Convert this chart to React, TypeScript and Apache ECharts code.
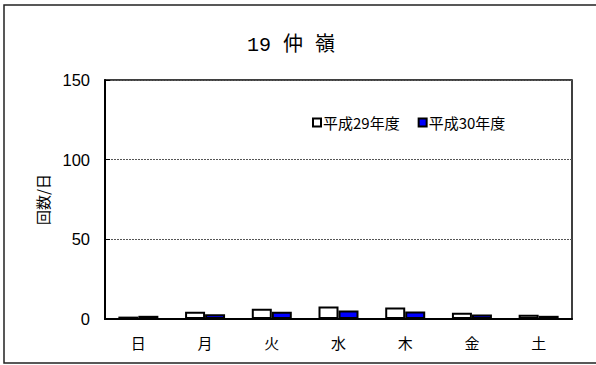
import React, { useEffect, useRef } from "react";
import * as echarts from "echarts";

const title = "19 仲 嶺";
const categories = ["日", "月", "火", "水", "木", "金", "土"];
const seriesNames = ["平成29年度", "平成30年度"];
const valuesH29 = [1.5, 4.6, 6.5, 7.8, 7.2, 4.0, 2.6];
const valuesH30 = [2.0, 3.0, 4.5, 5.3, 4.7, 2.8, 2.0];
const yTicks = { min: 0, max: 150, interval: 50 };
const yName = "回数/日";

const CJK = '"Noto Sans CJK JP", sans-serif';
const MONO = '"Liberation Mono", "Noto Sans CJK JP", monospace';
const NUM = '"Liberation Sans", Arial, sans-serif';

export default function App() {
  const ref = useRef<HTMLDivElement>(null);
  useEffect(() => {
    if (!ref.current) return;
    const chart = echarts.init(ref.current, null, { renderer: "svg" });
    chart.setOption({
      animation: false,
      backgroundColor: "#fff",
      title: {
        text: title,
        left: 286,
        top: 30,
        textAlign: "center",
        textStyle: { fontFamily: MONO, fontSize: 20, fontWeight: "normal", color: "#000" },
      },
      legend: {
        left: 307,
        top: 110,
        itemWidth: 8,
        itemHeight: 8,
        itemGap: 18,
        textStyle: { fontFamily: CJK, fontSize: 15, color: "#000", padding: [0, 0, 0, -3] },
        data: [
          { name: seriesNames[0], icon: "rect", itemStyle: { color: "#fff", borderColor: "#000", borderWidth: 2 } },
          { name: seriesNames[1], icon: "rect", itemStyle: { color: "#0000ff", borderColor: "#000", borderWidth: 2 } },
        ],
      },
      graphic: [
        {
          type: "rect",
          shape: { x: 4, y: 5, width: 600, height: 358 },
          style: { fill: "none", stroke: "#222", lineWidth: 1.5 },
          silent: true,
          z: -10,
        },
      ],
      grid: {
        left: 105,
        right: 24,
        top: 80,
        bottom: 46,
        show: true,
        borderColor: "#000",
        borderWidth: 1.5,
        backgroundColor: "transparent",
      },
      xAxis: {
        type: "category",
        data: categories,
        axisLine: { lineStyle: { color: "#000", width: 2 } },
        axisTick: { inside: true, length: 4, lineStyle: { color: "#888" } },
        axisLabel: { fontFamily: CJK, fontSize: 15, color: "#000", margin: 16 },
      },
      yAxis: {
        type: "value",
        min: yTicks.min,
        max: yTicks.max,
        interval: yTicks.interval,
        name: yName,
        nameLocation: "middle",
        nameGap: 55,
        nameTextStyle: { fontFamily: CJK, fontSize: 15, color: "#000" },
        axisLine: { show: true, lineStyle: { color: "#000", width: 2 } },
        axisTick: { show: true, inside: true, length: 5, lineStyle: { color: "#000" } },
        axisLabel: { fontFamily: NUM, fontSize: 16.5, color: "#000", margin: 15 },
        splitLine: { show: true, lineStyle: { color: "#555", type: [2, 1], width: 1 } },
      },
      series: [
        {
          name: seriesNames[0],
          type: "bar",
          data: valuesH29,
          barWidth: 20,
          barGap: "0%",
          itemStyle: { color: "#fff", borderColor: "#000", borderWidth: 2 },
        },
        {
          name: seriesNames[1],
          type: "bar",
          data: valuesH30,
          barWidth: 20,
          barGap: "0%",
          itemStyle: { color: "#0000ff", borderColor: "#000", borderWidth: 2 },
        },
      ],
    });
    return () => chart.dispose();
  }, []);
  return (
    <div
      ref={ref}
      style={{ position: "fixed", left: 0, top: 0, width: 596, height: 365 }}
    />
  );
}
